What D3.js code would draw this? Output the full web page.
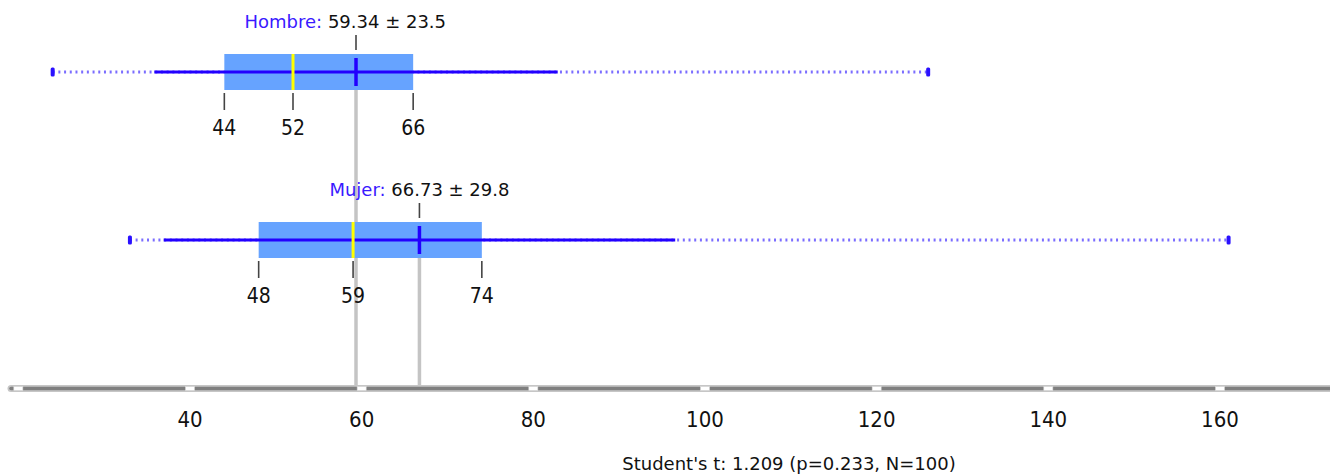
<!DOCTYPE html>
<html><head><meta charset="utf-8">
<script src="https://cdn.jsdelivr.net/npm/d3@7"></script>
<style>html,body{margin:0;padding:0;background:#fff;}svg{display:block;}
.cond{font-family:"DejaVu Sans Condensed","DejaVu Sans",sans-serif;font-stretch:condensed;}</style>
</head><body>
<svg id="c" width="1330" height="475"></svg>
<script>
const groups = ["Hombre", "Mujer"];
const mins = [24, 33];
const q1s = [44, 48];
const medians = [52, 59];
const q3s = [66, 74];
const maxs = [126, 161];
const means = [59.34, 66.73];
const sds = [23.5, 29.8];
const tickMarks = [20, 40, 60, 80, 100, 120, 140, 160];
const tickLabels = ["", "40", "60", "80", "100", "120", "140", "160"];
const footer = "Student's t: 1.209 (p=0.233, N=100)";

const FONT = "DejaVu Sans, Verdana, sans-serif";
const svg = d3.select("#c");
const x = d3.scaleLinear().domain([40, 160]).range([190, 1220]);
const y = d3.scalePoint().domain(groups).range([72, 240]);
const axisY = 388.5;
const boxH = 36;

const data = groups.map((g, i) => ({g, min: mins[i], q1: q1s[i], med: medians[i], q3: q3s[i], max: maxs[i], mean: means[i], sd: sds[i]}));

// gray mean reference lines (behind)
svg.selectAll(".ref").data(data).enter().append("line")
  .attr("x1", d => x(d.mean)).attr("x2", d => x(d.mean))
  .attr("y1", d => y(d.g) + boxH / 2).attr("y2", axisY)
  .attr("stroke", "#c4c4c4").attr("stroke-width", 3.5);

// axis
svg.append("line").attr("x1", 11).attr("x2", 1340).attr("y1", axisY).attr("y2", axisY)
  .attr("stroke", "#c6c6c6").attr("stroke-width", 7).attr("stroke-linecap", "round");
svg.append("line").attr("x1", 11).attr("x2", 1340).attr("y1", axisY).attr("y2", axisY)
  .attr("stroke", "#7f7f7f").attr("stroke-width", 3.5).attr("stroke-linecap", "round");
svg.selectAll(".tm").data(tickMarks).enter().append("rect")
  .attr("x", d => x(d) - 4.5).attr("y", axisY - 2).attr("width", 9).attr("height", 4)
  .attr("fill", "#fff").attr("stroke", "#d8d8d8").attr("stroke-width", 0.6);
svg.selectAll(".tl").data(tickMarks).enter().append("text")
  .attr("class", "cond")
  .attr("x", d => x(d)).attr("y", 427).attr("text-anchor", "middle")
  .attr("font-size", 22).attr("fill", "#111")
  .text((d, i) => tickLabels[i]);

const g = svg.selectAll(".grp").data(data).enter().append("g");

// dotted min-max
g.append("line").attr("x1", d => x(d.min)).attr("x2", d => x(d.max))
  .attr("y1", d => y(d.g)).attr("y2", d => y(d.g))
  .attr("stroke", "#5a48ff").attr("stroke-opacity", 0.8).attr("stroke-width", 3)
  .attr("stroke-dasharray", "2,3.7");
// end caps
g.selectAll(".cap").data(d => [[d, d.min], [d, d.max]]).enter().append("rect")
  .attr("x", d => x(d[1]) - 2).attr("y", d => y(d[0].g) - 4.5).attr("width", 4).attr("height", 9)
  .attr("rx", 1.5).attr("fill", "#2a10ff");
// box
g.append("rect").attr("x", d => x(d.q1)).attr("y", d => y(d.g) - boxH / 2)
  .attr("width", d => x(d.q3) - x(d.q1)).attr("height", boxH)
  .attr("fill", "#66a3ff");
// mean +/- sd line
g.append("line").attr("x1", d => x(d.mean - d.sd)).attr("x2", d => x(d.mean + d.sd))
  .attr("y1", d => y(d.g)).attr("y2", d => y(d.g))
  .attr("stroke", "#2200ff").attr("stroke-width", 3);
// median
g.append("line").attr("x1", d => x(d.med)).attr("x2", d => x(d.med))
  .attr("y1", d => y(d.g) - boxH / 2).attr("y2", d => y(d.g) + boxH / 2)
  .attr("stroke", "#ffff00").attr("stroke-width", 3);
// mean mark
g.append("line").attr("x1", d => x(d.mean)).attr("x2", d => x(d.mean))
  .attr("y1", d => y(d.g) - 14).attr("y2", d => y(d.g) + 14)
  .attr("stroke", "#2200ff").attr("stroke-width", 3.5);
// mean tick above
g.append("line").attr("x1", d => x(d.mean)).attr("x2", d => x(d.mean))
  .attr("y1", d => y(d.g) - 37).attr("y2", d => y(d.g) - 22)
  .attr("stroke", "#444").attr("stroke-width", 1.6);
// quartile ticks + labels
g.selectAll(".qt").data(d => [[d, d.q1], [d, d.med], [d, d.q3]]).enter().append("line")
  .attr("x1", d => x(d[1])).attr("x2", d => x(d[1]))
  .attr("y1", d => y(d[0].g) + 21).attr("y2", d => y(d[0].g) + 38)
  .attr("stroke", "#444").attr("stroke-width", 1.6);
g.selectAll(".ql").data(d => [[d, d.q1], [d, d.med], [d, d.q3]]).enter().append("text")
  .attr("class", "cond")
  .attr("x", d => x(d[1])).attr("y", d => y(d[0].g) + 63).attr("text-anchor", "middle")
  .attr("font-size", 21).attr("fill", "#111")
  .text(d => d[1]);
// title labels
const t = g.append("text").attr("x", d => x(d.mean)).attr("y", d => y(d.g) - 44)
  .attr("text-anchor", "end").attr("font-family", FONT).attr("font-size", 18);
t.append("tspan").attr("fill", "#3a1aff").text(d => d.g + ": ");
t.append("tspan").attr("fill", "#111").text(d => d.mean.toFixed(2) + " \u00b1 " + d.sd);
const widths = t.nodes().map(n => n.getComputedTextLength());
const half = d3.min(widths) / 2;
t.attr("x", d => x(d.mean) + half);

svg.append("text").attr("x", 789).attr("y", 470).attr("text-anchor", "middle")
  .attr("font-family", FONT).attr("font-size", 18).attr("fill", "#111").text(footer);
</script>
</body></html>
